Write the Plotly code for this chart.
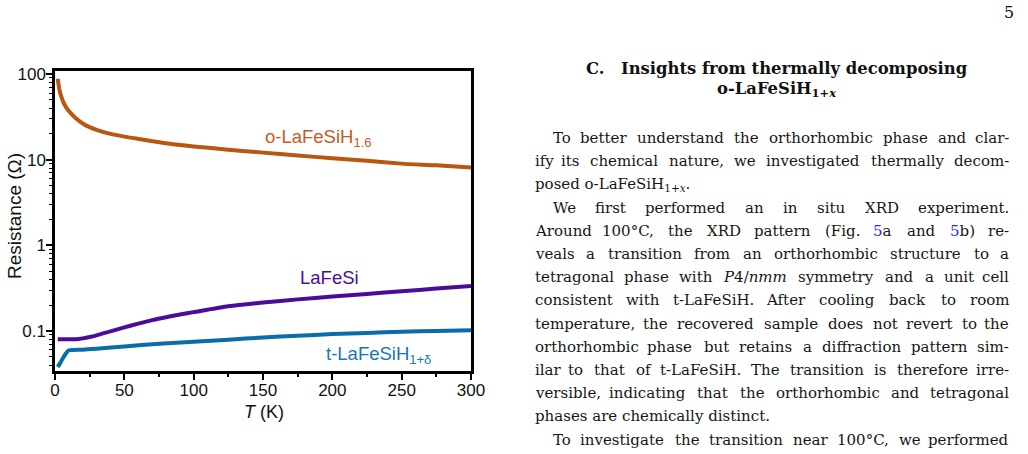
import plotly.graph_objects as go
import math
import re

# ---------------- data ----------------
T_o = [2, 3, 4, 5, 6, 8, 10, 12, 15, 20, 25, 30, 40, 50, 60, 80, 100, 125, 150, 175, 200, 225, 250, 275, 300]
R_o = [88, 68, 58, 52, 47, 41, 37, 34, 30.5, 26.5, 24, 22.3, 20, 18.6, 17.5, 15.6, 14.3, 13.1, 12.1, 11.2, 10.4, 9.7, 9.0, 8.6, 8.1]

T_l = [2, 5, 10, 15, 20, 25, 30, 40, 50, 60, 70, 80, 90, 100, 125, 150, 175, 200, 225, 250, 275, 300]
R_l = [0.080, 0.080, 0.080, 0.080, 0.082, 0.085, 0.089, 0.099, 0.110, 0.122, 0.134, 0.145, 0.156, 0.166,
       0.194, 0.215, 0.234, 0.252, 0.271, 0.291, 0.313, 0.336]

T_t = [2, 4, 6, 8, 9.5, 12, 20, 30, 50, 75, 100, 125, 150, 175, 200, 225, 250, 275, 300]
R_t = [0.038, 0.043, 0.049, 0.055, 0.059, 0.0600, 0.0605, 0.062, 0.066, 0.071, 0.075, 0.079, 0.084,
       0.088, 0.092, 0.095, 0.098, 0.100, 0.102]

y_major = [0.1, 1, 10, 100]
y_major_text = ["0.1", "1", "10", "100"]
y_minor = [m * d for d in (0.01, 0.1, 1, 10) for m in range(2, 10)]
x_major = [0, 50, 100, 150, 200, 250, 300]
x_minor = [25, 75, 125, 175, 225, 275]

col_o = "#B9560F"
col_l = "#4B0C99"
col_t = "#0A6DA8"

heading_num = "C."
heading1 = "Insights from thermally decomposing"
heading2 = "o-LaFeSiH<sub>1+<i>x</i></sub>"
# (text, indented, justified)
body = [
    ("To better understand the orthorhombic phase and clar-", True, True),
    ("ify its chemical nature, we investigated thermally decom-", False, True),
    ("posed o-LaFeSiH<sub>1+<i>x</i></sub>.", False, False),
    ("We first performed an in situ XRD experiment.", True, True),
    ("Around 100°C, the XRD pattern (Fig. <span style='color:#2a2aff'>5</span>a and <span style='color:#2a2aff'>5</span>b) re-", False, True),
    ("veals a transition from an orthorhombic structure to a", False, True),
    ("tetragonal phase with <i>P</i>4/<i>nmm</i> symmetry and a unit cell", False, True),
    ("consistent with t-LaFeSiH. After cooling back to room", False, True),
    ("temperature, the recovered sample does not revert to the", False, True),
    ("orthorhombic phase but retains a diffraction pattern sim-", False, True),
    ("ilar to that of t-LaFeSiH. The transition is therefore irre-", False, True),
    ("versible, indicating that the orthorhombic and tetragonal", False, True),
    ("phases are chemically distinct.", False, False),
    ("To investigate the transition near 100°C, we performed", True, True),
]

# ---------------- figure ----------------
fig = go.Figure()
for T, R, c in ((T_o, R_o, col_o), (T_l, R_l, col_l), (T_t, R_t, col_t)):
    fig.add_trace(go.Scatter(x=T, y=R, mode="lines", line=dict(color=c, width=4, shape="spline", smoothing=0.6),
                             showlegend=False, hoverinfo="skip"))

W, H = 1028, 454
ml, mr, mt, mb = 55, 557, 71, 83
PW, PH = W - ml - mr, H - mt - mb

fig.update_layout(
    width=W, height=H,
    margin=dict(l=ml, r=mr, t=mt, b=mb, autoexpand=False),
    paper_bgcolor="white", plot_bgcolor="white",
    font=dict(family="Liberation Sans, Arial, sans-serif", color="#111", size=17),
    showlegend=False,
)
fig.update_xaxes(
    range=[0, 300], tickvals=x_major, ticks="outside", ticklen=6, tickwidth=1.5, tickcolor="black",
    showline=True, linecolor="black", linewidth=2.5, mirror=True, showgrid=False, zeroline=False,
    tickfont=dict(size=17, color="#111"), automargin=False, ticklabelstandoff=-4,
    minor=dict(tickvals=x_minor, ticks="outside", ticklen=3, tickwidth=1.5, tickcolor="black", showgrid=False),
)
fig.update_yaxes(
    type="log", range=[math.log10(0.0341), math.log10(108.6)],
    tickmode="array", tickvals=y_major, ticktext=y_major_text,
    ticks="outside", ticklen=6, tickwidth=1.5, tickcolor="black",
    showline=True, linecolor="black", linewidth=2.5, mirror=True, showgrid=False, zeroline=False,
    tickfont=dict(size=17, color="#111"), automargin=False, ticklabelstandoff=-3,
    minor=dict(tickvals=y_minor, ticks="outside", ticklen=3, tickwidth=1, tickcolor="black", showgrid=False),
)

def px(xp):
    return (xp - ml) / PW
def py(yp):
    return (H - mb - yp) / PH

# axis titles
fig.add_annotation(x=px(15), y=py(216), xref="paper", yref="paper", text="Resistance (Ω)", textangle=-90,
                   showarrow=False, xanchor="center", yanchor="middle", font=dict(size=19, color="#111"))
fig.add_annotation(x=px(264), y=py(412), xref="paper", yref="paper", text="<i>T</i> (K)",
                   showarrow=False, xanchor="center", yanchor="middle", font=dict(size=18, color="#111"))

# curve labels
fig.add_annotation(x=189.6, y=1.256, xref="x", yref="y", text="o-LaFeSiH<sub>1.6</sub>", showarrow=False,
                   font=dict(size=18.5, color="#BF5E1C"))
fig.add_annotation(x=198, y=-0.380, xref="x", yref="y", text="LaFeSi", showarrow=False,
                   font=dict(size=18.5, color=col_l))
fig.add_annotation(x=233, y=-1.279, xref="x", yref="y", text="t-LaFeSiH<sub>1+δ</sub>", showarrow=False,
                   font=dict(size=18.5, color="#1478B4"))

# ---------------- page text ----------------
serif = "DejaVu Serif, Liberation Serif, serif"
TXT = "#161616"
FS = 15

fig.add_annotation(x=px(1016), y=py(13), xref="paper", yref="paper", text="5", showarrow=False,
                   xanchor="right", yanchor="middle", font=dict(family=serif, size=16, color="#111"))
fig.add_annotation(x=px(584), y=py(68), xref="paper", yref="paper", text="<b>" + heading_num + "</b>",
                   showarrow=False, xanchor="left", yanchor="middle", font=dict(family=serif, size=16.4, color="#111"))
fig.add_annotation(x=px(970), y=py(68), xref="paper", yref="paper", text="<b>" + heading1 + "</b>",
                   showarrow=False, xanchor="right", yanchor="middle", font=dict(family=serif, size=16.4, color="#111"))
fig.add_annotation(x=px(776), y=py(89), xref="paper", yref="paper", text="<b>" + heading2 + "</b>",
                   showarrow=False, xanchor="center", yanchor="middle", font=dict(family=serif, size=16.4, color="#111"))

# approximate glyph advance widths (units of 1/2048 em)
CW = {" ": 651, ",": 651, "-": 739, ".": 651, "/": 690, "(": 799, ")": 799, "°": 819, "+": 1716,
      "A": 1401, "B": 1405, "C": 1430, "D": 1577, "E": 1294, "F": 1178, "G": 1587, "H": 1540, "I": 604,
      "K": 1343, "L": 1141, "M": 1767, "N": 1532, "O": 1612, "P": 1235, "R": 1423, "S": 1300, "T": 1251,
      "W": 2025, "X": 1403, "a": 1255, "b": 1300, "c": 1126, "d": 1300, "e": 1260, "f": 721, "g": 1300,
      "h": 1298, "i": 569, "j": 569, "k": 1186, "l": 569, "m": 1995, "n": 1298, "o": 1253, "p": 1300,
      "q": 1300, "r": 842, "s": 1067, "t": 803, "u": 1298, "v": 1212, "w": 1675, "x": 1212, "y": 1212, "z": 1075}
SCALE = 1.02

def word_width(w):
    total, sub = 0.0, False
    for tok in re.split(r"(<[^>]+>)", w):
        if tok.startswith("<"):
            if tok.startswith("<sub"):
                sub = True
            elif tok.startswith("</sub"):
                sub = False
            continue
        for ch in tok:
            cw = 1303 if ch.isdigit() else CW.get(ch, 1250)
            total += cw * (0.7 if sub else 1.0)
    return total / 2048 * FS * SCALE

def split_words(line):
    # split on spaces that are outside of tags
    words, cur, depth = [], "", 0
    for ch in line:
        if ch == "<":
            depth += 1
        elif ch == ">":
            depth -= 1
        if ch == " " and depth == 0:
            if cur:
                words.append(cur)
            cur = ""
        else:
            cur += ch
    if cur:
        words.append(cur)
    return words

LEFT, RIGHT, INDENT = 533, 1011, 18
y0, dy = 138, 23.2
for i, (line, indent, just) in enumerate(body):
    yy = py(y0 + i * dy)
    L = LEFT + (INDENT if indent else 0)
    if not just:
        fig.add_annotation(x=px(L), y=yy, xref="paper", yref="paper", text=line, showarrow=False,
                           xanchor="left", yanchor="middle", font=dict(family=serif, size=FS, color=TXT))
        continue
    words = split_words(line)
    widths = [word_width(w) for w in words]
    gap = (RIGHT - L - sum(widths)) / (len(words) - 1)
    xcur = L
    for j, (w, ww) in enumerate(zip(words, widths)):
        if j == 0:
            xa, xx = "left", xcur
        elif j == len(words) - 1:
            xa, xx = "right", RIGHT
        else:
            xa, xx = "center", xcur + ww / 2
        fig.add_annotation(x=px(xx), y=yy, xref="paper", yref="paper", text=w, showarrow=False,
                           xanchor=xa, yanchor="middle", font=dict(family=serif, size=FS, color=TXT))
        xcur += ww + gap

fig.write_html("out.html")
